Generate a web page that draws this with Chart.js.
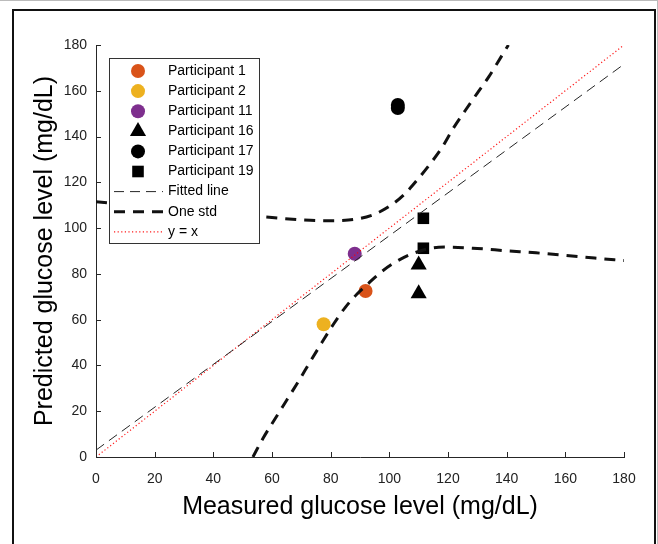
<!DOCTYPE html>
<html lang="en">
<head>
  <meta charset="UTF-8" />
  <title>Measured vs predicted glucose</title>
  <script src="https://cdn.jsdelivr.net/npm/chart.js"></script>
  <style>
    body { margin: 0; background: #fff; }
    .wrap { position: relative; width: 658px; height: 544px; overflow: hidden; }
    canvas { position: absolute; left: 0; top: 0; }
    .frame {
      position: absolute; left: 12px; top: 9px;
      width: 640px; height: 560px;
      border: 2px solid #111; pointer-events: none;
    }
    .edge-top { position: absolute; left: 0; top: 0; width: 658px; height: 1px; background: #bbb; }
    .edge-right { position: absolute; right: 0; top: 0; width: 1px; height: 544px; background: #bbb; }
  </style>
</head>
<body>
  <div class="wrap">
    <canvas id="glucoseChart" width="658" height="544"></canvas>
    <div class="frame"></div>
    <div class="edge-top"></div>
    <div class="edge-right"></div>
  </div>

  <script>
    // axis ticks
    const tickValues = [0, 20, 40, 60, 80, 100, 120, 140, 160, 180];

    // participants (measured, predicted)
    const p1Measured = [91.9];
    const p1Predicted = [72.5];
    const p2Measured = [77.6];
    const p2Predicted = [58.0];
    const p11Measured = [88.2];
    const p11Predicted = [88.8];
    const p16Measured = [110.0, 110.0];
    const p16Predicted = [84.0, 71.4];
    const p17Measured = [102.9, 102.9];
    const p17Predicted = [152.5, 153.8];
    const p19Measured = [111.6, 111.6];
    const p19Predicted = [104.3, 91.2];

    // fitted line and y = x
    const fitMeasured = [0, 180];
    const fitPredicted = [3.0, 171.6];
    const identityMeasured = [0, 180];
    const identityPredicted = [0, 180];

    // one std band
    const stdUpperMeasured = [0, 20, 40, 60, 70, 78, 86, 94, 100, 105, 110, 114, 118, 122, 126, 130, 134, 138, 140.6];
    const stdUpperPredicted = [111.5, 109, 106.8, 104.6, 103.6, 103.2, 103.5, 105.6, 109.5, 114.6, 121.8, 128.2, 135.3, 144.0, 151.6, 159.0, 166.3, 174.6, 180];
    const stdLowerMeasured = [53.5, 57, 61, 65, 69, 73, 77, 81, 85, 89, 93, 97, 101, 105, 110, 115, 120, 130, 140, 150, 160, 170, 180];
    const stdLowerPredicted = [0, 8.3, 16.6, 24.8, 33, 41.6, 50, 58.1, 65.4, 71.2, 76.0, 80.6, 84.3, 87.2, 89.8, 91.4, 91.7, 91.1, 90.1, 89.2, 88.1, 86.9, 85.8];

    const FONT = '"Liberation Sans", Arial, sans-serif';

    function pts(xs, ys) {
      return xs.map((x, i) => ({ x: x, y: ys[i] }));
    }

    function marker(label, xs, ys, color, style, radius) {
      return {
        label: label,
        data: pts(xs, ys),
        backgroundColor: color,
        borderWidth: 0,
        pointStyle: style,
        pointRadius: radius,
        pointHoverRadius: radius,
        order: 1
      };
    }

    function curve(label, xs, ys, color, width, dash) {
      return {
        label: label,
        data: pts(xs, ys),
        showLine: true,
        borderColor: color,
        borderWidth: width,
        borderDash: dash,
        pointRadius: 0,
        cubicInterpolationMode: 'monotone',
        fill: false,
        order: 0
      };
    }

    // ticks drawn inward, like the original
    const innerTicks = {
      id: 'innerTicks',
      afterDatasetsDraw(chart) {
        const { ctx, chartArea, scales } = chart;
        ctx.save();
        ctx.strokeStyle = '#262626';
        ctx.lineWidth = 1;
        ctx.beginPath();
        scales.x.ticks.forEach(t => {
          const px = Math.round(scales.x.getPixelForValue(t.value)) + 0.5;
          ctx.moveTo(px, chartArea.bottom);
          ctx.lineTo(px, chartArea.bottom - 5);
        });
        scales.y.ticks.forEach(t => {
          const py = Math.round(scales.y.getPixelForValue(t.value)) + 0.5;
          ctx.moveTo(chartArea.left, py);
          ctx.lineTo(chartArea.left + 5, py);
        });
        ctx.stroke();
        ctx.restore();
      }
    };

    // boxed legend in the upper left of the plot (lower band curve is left out)
    const boxLegend = {
      id: 'boxLegend',
      afterDraw(chart) {
        const ctx = chart.ctx;
        const x0 = 109, y0 = 58, w = 150, h = 185;
        ctx.save();
        ctx.fillStyle = '#fff';
        ctx.fillRect(x0, y0, w, h);
        ctx.strokeStyle = '#333';
        ctx.lineWidth = 1;
        ctx.strokeRect(x0 + 0.5, y0 + 0.5, w, h);
        chart.data.datasets.filter(d => !d.skipLegend).forEach((ds, i) => {
          const cy = 71 + i * 20.1;
          if (ds.showLine) {
            ctx.strokeStyle = ds.borderColor;
            ctx.lineWidth = ds.borderWidth;
            ctx.setLineDash(ds.borderDash || []);
            ctx.beginPath();
            ctx.moveTo(114, cy);
            ctx.lineTo(163, cy);
            ctx.stroke();
            ctx.setLineDash([]);
          } else {
            ctx.fillStyle = ds.backgroundColor;
            Chart.helpers.drawPoint(ctx, { pointStyle: ds.pointStyle, radius: ds.pointRadius, borderWidth: 0, rotation: 0 }, 138, cy);
          }
          ctx.fillStyle = '#000';
          ctx.font = '14px ' + FONT;
          ctx.textBaseline = 'middle';
          ctx.textAlign = 'left';
          ctx.fillText(ds.label, 168, cy);
        });
        ctx.restore();
      }
    };

    const lowerBand = curve('', stdLowerMeasured, stdLowerPredicted, '#111', 3, [11, 8]);
    lowerBand.skipLegend = true;

    const ctxGlucose = document.getElementById('glucoseChart').getContext('2d');
    new Chart(ctxGlucose, {
      type: 'scatter',
      data: {
        datasets: [
          marker('Participant 1', p1Measured, p1Predicted, '#D95319', 'circle', 7),
          marker('Participant 2', p2Measured, p2Predicted, '#EDB120', 'circle', 7),
          marker('Participant 11', p11Measured, p11Predicted, '#7E2F8E', 'circle', 7),
          marker('Participant 16', p16Measured, p16Predicted, '#000', 'triangle', 9.3),
          marker('Participant 17', p17Measured, p17Predicted, '#000', 'circle', 7),
          marker('Participant 19', p19Measured, p19Predicted, '#000', 'rect', 8.2),
          curve('Fitted line', fitMeasured, fitPredicted, '#262626', 1, [10, 6]),
          curve('One std', stdUpperMeasured, stdUpperPredicted, '#111', 3, [11, 8]),
          curve('y = x', identityMeasured, identityPredicted, 'rgba(255,0,0,0.9)', 1.2, [1.2, 2.4]),
          lowerBand
        ]
      },
      options: {
        responsive: false,
        animation: false,
        layout: { padding: { top: 45, right: 34, left: 0, bottom: 0 } },
        plugins: {
          legend: { display: false },
          tooltip: { enabled: false }
        },
        scales: {
          x: {
            type: 'linear',
            min: 0,
            max: 180,
            afterBuildTicks: scale => { scale.ticks = tickValues.map(v => ({ value: v })); },
            afterFit: scale => { scale.height = 87; },
            grid: { display: false, drawTicks: false },
            border: { display: true, color: '#262626', width: 1 },
            ticks: { color: '#222', padding: 14, font: { size: 14, family: FONT } },
            title: {
              display: true,
              text: 'Measured glucose level (mg/dL)',
              color: '#000',
              font: { size: 25, family: FONT, lineHeight: 1 },
              padding: { top: 0, bottom: 24.5 }
            }
          },
          y: {
            type: 'linear',
            min: 0,
            max: 180,
            afterBuildTicks: scale => { scale.ticks = tickValues.map(v => ({ value: v })); },
            afterFit: scale => { scale.width = 96; },
            grid: { display: false, drawTicks: false },
            border: { display: true, color: '#262626', width: 1 },
            ticks: { color: '#222', padding: 9, font: { size: 14, family: FONT } },
            title: {
              display: true,
              text: 'Predicted glucose level (mg/dL)',
              color: '#000',
              font: { size: 25, family: FONT, lineHeight: 1 },
              padding: { top: 33, bottom: 0 }
            }
          }
        }
      },
      plugins: [innerTicks, boxLegend]
    });
  </script>
</body>
</html>
